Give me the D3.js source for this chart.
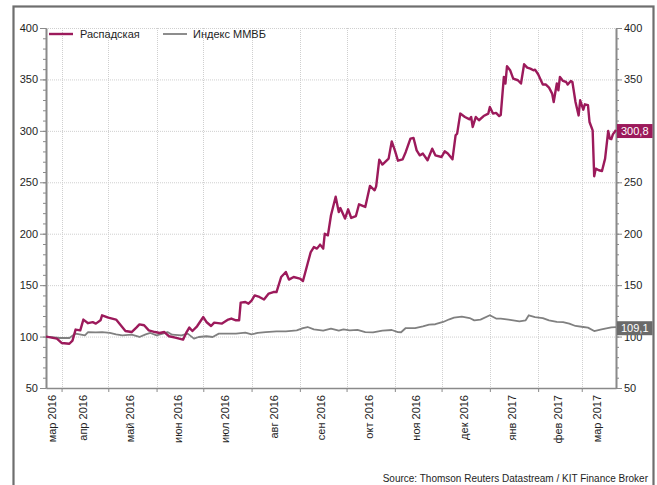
<!DOCTYPE html>
<html>
<head>
<meta charset="utf-8">
<script src="https://cdn.jsdelivr.net/npm/d3@7"></script>
<style>
  body { margin: 0; background: #fff; }
  svg text { font-family: "Liberation Sans", Arial, sans-serif; fill: #1e1e1e; }
  .axis path, .axis line { stroke: #8a8a8a; }
  .axis path { stroke-width: 1.6; }
  .grid line { stroke: #cfcfcf; stroke-dasharray: 1,1; }
  .line { fill: none; stroke-linejoin: round; }
</style>
</head>
<body>
<div id="chart"></div>
<script>
// series names (legend order)
const seriesNames = ["Распадская", "Индекс ММВБ"];
const seriesColors = ["#9c1a5b", "#808080"];

// x axis month labels
const monthLabels = ["мар 2016", "апр 2016", "май 2016", "июн 2016", "июл 2016", "авг 2016",
  "сен 2016", "окт 2016", "ноя 2016", "дек 2016", "янв 2017", "фев 2017", "мар 2017"];

const yTickValues = [50, 100, 150, 200, 250, 300, 350, 400];
const sourceText = "Source: Thomson Reuters Datastream / KIT Finance Broker";

// Распадская, rebased to 100
const raspadskaya = [
  ["2016-03-22",100],["2016-03-24",99.5],["2016-03-29",98],["2016-04-01",93.8],["2016-04-06",93],
  ["2016-04-08",96],["2016-04-10",106.8],["2016-04-13",106],["2016-04-15",116.5],["2016-04-18",113],
  ["2016-04-21",114],["2016-04-23",112.6],["2016-04-26",115.8],["2016-04-27",120.7],["2016-05-01",118.4],
  ["2016-05-06",116.5],["2016-05-09",111],["2016-05-12",105.4],["2016-05-16",104.4],["2016-05-19",108.7],
  ["2016-05-21",111.9],["2016-05-24",111],["2016-05-27",106],["2016-05-31",104.4],["2016-06-03",103.5],
  ["2016-06-06",104.4],["2016-06-09",100.3],["2016-06-13",99],["2016-06-18",97],["2016-06-20",103.5],
  ["2016-06-22",108.7],["2016-06-24",105.4],["2016-06-27",110],["2016-07-01",119],["2016-07-03",114.2],
  ["2016-07-06",110.3],["2016-07-08",113.6],["2016-07-13",112.6],["2016-07-17",116.5],["2016-07-19",117.5],
  ["2016-07-22",115.8],["2016-07-24",115.8],["2016-07-25",133],["2016-07-28",133.6],["2016-07-30",132],
  ["2016-08-01",135],["2016-08-03",140],["2016-08-06",138.5],["2016-08-09",136],["2016-08-12",141.8],
  ["2016-08-15",143.3],["2016-08-17",143.3],["2016-08-20",157.9],["2016-08-23",162.8],["2016-08-25",155.4],
  ["2016-08-28",157.9],["2016-09-01",156.4],["2016-09-03",154],["2016-09-06",171],["2016-09-08",182.2],
  ["2016-09-10",187],["2016-09-12",185.5],["2016-09-14",189.4],["2016-09-16",185.5],["2016-09-17",200],
  ["2016-09-19",198.4],["2016-09-21",217.9],["2016-09-24",236],["2016-09-26",221],["2016-09-27",225],
  ["2016-09-30",214.7],["2016-10-02",223.7],["2016-10-04",215.3],["2016-10-07",217.2],["2016-10-09",228.6],
  ["2016-10-13",226],["2016-10-16",246.4],["2016-10-19",242.2],["2016-10-20",246],["2016-10-22",272],
  ["2016-10-24",267.2],["2016-10-28",273],["2016-10-30",289.8],["2016-11-01",281],["2016-11-03",271],
  ["2016-11-06",272.3],["2016-11-08",279.5],["2016-11-11",292.5],["2016-11-13",293],["2016-11-15",281],
  ["2016-11-17",276.2],["2016-11-19",277.9],["2016-11-22",271.4],["2016-11-25",282.7],["2016-11-27",276.2],
  ["2016-12-01",274.6],["2016-12-03",280.1],["2016-12-05",277.9],["2016-12-08",272.3],["2016-12-10",295.7],
  ["2016-12-11",297.3],["2016-12-13",316.8],["2016-12-16",313.5],["2016-12-19",311.2],["2016-12-20",313.5],
  ["2016-12-21",303.8],["2016-12-23",313.5],["2016-12-25",310.3],["2016-12-28",314.4],["2016-12-31",316.8],
  ["2017-01-01",323.2],["2017-01-03",316.8],["2017-01-05",317.5],["2017-01-07",314.4],["2017-01-08",315.5],
  ["2017-01-10",352.4],["2017-01-11",346],["2017-01-12",362.8],["2017-01-14",359],["2017-01-16",350.8],
  ["2017-01-19",349.2],["2017-01-21",346],["2017-01-23",364.7],["2017-01-25",361.5],["2017-01-27",360.5],
  ["2017-01-29",358.9],["2017-01-30",359.5],["2017-02-01",355],["2017-02-04",345],["2017-02-06",345],
  ["2017-02-08",342],["2017-02-10",336.2],["2017-02-11",328],["2017-02-13",346],["2017-02-14",339.4],
  ["2017-02-15",352.4],["2017-02-17",348.5],["2017-02-19",347.5],["2017-02-20",345],["2017-02-22",348.5],
  ["2017-02-23",347.5],["2017-02-25",328],["2017-02-27",315],["2017-02-28",329.7],["2017-03-02",320.6],
  ["2017-03-03",325.8],["2017-03-05",325],["2017-03-06",308.6],["2017-03-08",300.5],["2017-03-09",255.8],
  ["2017-03-10",263.3],["2017-03-12",261.7],["2017-03-14",261],["2017-03-16",273],["2017-03-18",299.9],
  ["2017-03-19",292.5],["2017-03-20",292],["2017-03-21",296.6],["2017-03-23",300.8]
];

// Индекс ММВБ, rebased to 100
const micex = [
  ["2016-03-22",100],["2016-03-31",98.6],["2016-04-06",98.6],["2016-04-10",102.9],["2016-04-16",101.2],
  ["2016-04-18",104.4],["2016-04-23",104],["2016-04-27",104.4],["2016-05-02",103.5],["2016-05-06",102.2],
  ["2016-05-10",101.2],["2016-05-16",101.8],["2016-05-21",99.6],["2016-05-25",102.2],["2016-05-28",103.5],
  ["2016-06-01",101.2],["2016-06-05",102.9],["2016-06-08",104.4],["2016-06-11",101.8],["2016-06-17",101.2],
  ["2016-06-21",102.9],["2016-06-25",98],["2016-06-28",99.6],["2016-07-03",100.3],["2016-07-07",99.6],
  ["2016-07-11",102.9],["2016-07-18",102.9],["2016-07-22",102.9],["2016-07-28",103.8],["2016-08-01",102.2],
  ["2016-08-05",103.5],["2016-08-10",104.4],["2016-08-17",105.1],["2016-08-23",105.1],["2016-08-30",106.1],
  ["2016-09-03",108.3],["2016-09-06",109.3],["2016-09-10",107],["2016-09-16",105.8],["2016-09-21",107.7],
  ["2016-09-26",105.8],["2016-09-29",107],["2016-10-03",106],["2016-10-08",106.5],["2016-10-13",104.4],
  ["2016-10-18",104.1],["2016-10-24",105.8],["2016-10-30",106.4],["2016-11-03",104.4],["2016-11-05",104.2],
  ["2016-11-08",108.3],["2016-11-14",108.3],["2016-11-19",110],["2016-11-23",111.6],["2016-11-27",112],
  ["2016-12-02",114.2],["2016-12-06",116.8],["2016-12-09",118.4],["2016-12-14",119.4],["2016-12-19",118],
  ["2016-12-22",115.8],["2016-12-26",116.5],["2017-01-01",120.7],["2017-01-05",117.5],["2017-01-08",117.5],
  ["2017-01-13",116.5],["2017-01-20",114.8],["2017-01-24",115.8],["2017-01-26",120.7],["2017-01-30",119],
  ["2017-02-04",118],["2017-02-08",115.8],["2017-02-13",114.2],["2017-02-17",114],["2017-02-21",112.6],
  ["2017-02-25",110.3],["2017-03-02",109.3],["2017-03-05",108.7],["2017-03-09",105.4],["2017-03-13",106.8],
  ["2017-03-16",107.7],["2017-03-20",109],["2017-03-23",109.1]
];

class PriceChart {
  constructor(element) {
    this.element = element;
    this.width = 657;
    this.height = 485;
    this.margin = { top: 28, right: 41, bottom: 97, left: 46 };
    this.parse = d3.timeParse("%Y-%m-%d");
    this.series = [raspadskaya, micex].map(s => s.map(d => ({ date: this.parse(d[0]), value: d[1] })));
    this.draw();
  }

  draw() {
    this.svg = d3.select(this.element).append("svg")
      .attr("width", this.width)
      .attr("height", this.height);

    // outer frame
    this.svg.append("rect")
      .attr("x", 13.5).attr("y", 6.5)
      .attr("width", 640).attr("height", 520)
      .attr("fill", "none").attr("stroke", "#6e6e6e").attr("stroke-width", 2.2);

    this.createScales();
    this.addGrid();
    this.addAxes();
    this.addLines();
    this.addEndLabels();
    this.addLegend();

    this.svg.append("text")
      .attr("x", 648).attr("y", 482)
      .attr("text-anchor", "end")
      .style("font-size", "10px")
      .text(sourceText);
  }

  createScales() {
    const m = this.margin;
    this._x = d3.scaleTime()
      .domain([this.parse("2016-03-22"), this.parse("2017-03-23")])
      .range([m.left, this.width - m.right]);
    this._y = d3.scaleLinear()
      .domain([50, 400])
      .range([this.height - m.bottom, m.top]);
  }

  addGrid() {
    const [x0, x1] = this._x.range();
    const [y0, y1] = this._y.range();
    this.months = d3.timeMonth.range(this._x.domain()[0], this._x.domain()[1]);

    const g = this.svg.append("g").attr("class", "grid");
    g.selectAll(".h").data(yTickValues.slice(1)).enter().append("line")
      .attr("x1", x0).attr("x2", x1)
      .attr("y1", d => this._y(d) + 0.5).attr("y2", d => this._y(d) + 0.5);
    g.selectAll(".v").data(this.months).enter().append("line")
      .attr("x1", d => Math.round(this._x(d)) + 0.5).attr("x2", d => Math.round(this._x(d)) + 0.5)
      .attr("y1", y1).attr("y2", y0);
  }

  addAxes() {
    const [x0, x1] = this._x.range();
    const [y0] = this._y.range();
    const minor = d3.range(50, 401, 10);

    // minor ticks on both sides
    this.svg.append("g").attr("class", "axis")
      .attr("transform", `translate(${x0},0)`)
      .call(d3.axisLeft(this._y).tickValues(minor).tickSize(3).tickSizeOuter(0).tickFormat(""));
    this.svg.append("g").attr("class", "axis")
      .attr("transform", `translate(${x1},0)`)
      .call(d3.axisRight(this._y).tickValues(minor).tickSize(3).tickSizeOuter(0).tickFormat(""));

    const left = this.svg.append("g").attr("class", "axis")
      .attr("transform", `translate(${x0},0)`)
      .call(d3.axisLeft(this._y).tickValues(yTickValues).tickSize(6).tickSizeOuter(0).tickPadding(2));
    const right = this.svg.append("g").attr("class", "axis")
      .attr("transform", `translate(${x1},0)`)
      .call(d3.axisRight(this._y).tickValues(yTickValues).tickSize(6).tickSizeOuter(0).tickPadding(2));
    [left, right].forEach(a => a.selectAll("text").style("font-size", "11px").attr("fill", "#1e1e1e"));

    this.svg.append("g").attr("class", "axis")
      .attr("transform", `translate(0,${y0})`)
      .call(d3.axisBottom(this._x).tickValues(this.months).tickSize(4).tickSizeOuter(0).tickFormat(""));

    // month labels centred on each month span
    const edges = [this._x.domain()[0], ...this.months, this._x.domain()[1]];
    const mids = monthLabels.map((t, i) => (this._x(edges[i]) + this._x(edges[i + 1])) / 2);
    this.svg.selectAll(".month").data(monthLabels).enter().append("text")
      .attr("class", "month")
      .attr("transform", (d, i) => `translate(${mids[i] - 2},${y0 + 7}) rotate(-90)`)
      .attr("text-anchor", "end")
      .attr("dy", "0.35em")
      .style("font-size", "11px")
      .text(d => d);
  }

  addLines() {
    const line = d3.line().x(d => this._x(d.date)).y(d => this._y(d.value));
    this.svg.selectAll(".line").data(this.series.slice().reverse()).enter().append("path")
      .attr("class", "line")
      .attr("d", line)
      .attr("stroke", (d, i) => seriesColors[1 - i])
      .attr("stroke-width", (d, i) => i === 0 ? 1.8 : 2.4);
  }

  addEndLabels() {
    const x1 = this._x.range()[1];
    const fmt = v => d3.format(".1f")(v).replace(".", ",");
    this.series.forEach((s, i) => {
      const last = s[s.length - 1];
      const g = this.svg.append("g").attr("transform", `translate(${x1 + 1},${this._y(last.value) + 1})`);
      const t = g.append("text").attr("x", 4).attr("dy", "0.36em")
        .style("font-size", "11px").attr("fill", "#fff").style("fill", "#fff")
        .text(fmt(last.value));
      const w = t.node().getComputedTextLength();
      g.insert("rect", "text")
        .attr("x", 0).attr("y", -7).attr("width", w + 8).attr("height", 14)
        .attr("fill", i === 0 ? seriesColors[0] : "#6a6a6a");
    });
  }

  addLegend() {
    const items = [{ x: 49, tx: 80 }, { x: 163, tx: 193 }];
    items.forEach((p, i) => {
      this.svg.append("line")
        .attr("x1", p.x).attr("x2", p.x + 24).attr("y1", 34).attr("y2", 34)
        .attr("stroke", seriesColors[i]).attr("stroke-width", i === 0 ? 2.4 : 1.8);
      this.svg.append("text")
        .attr("x", p.tx).attr("y", 38)
        .style("font-size", "11px")
        .text(seriesNames[i]);
    });
  }
}

new PriceChart("#chart");
</script>
</body>
</html>
